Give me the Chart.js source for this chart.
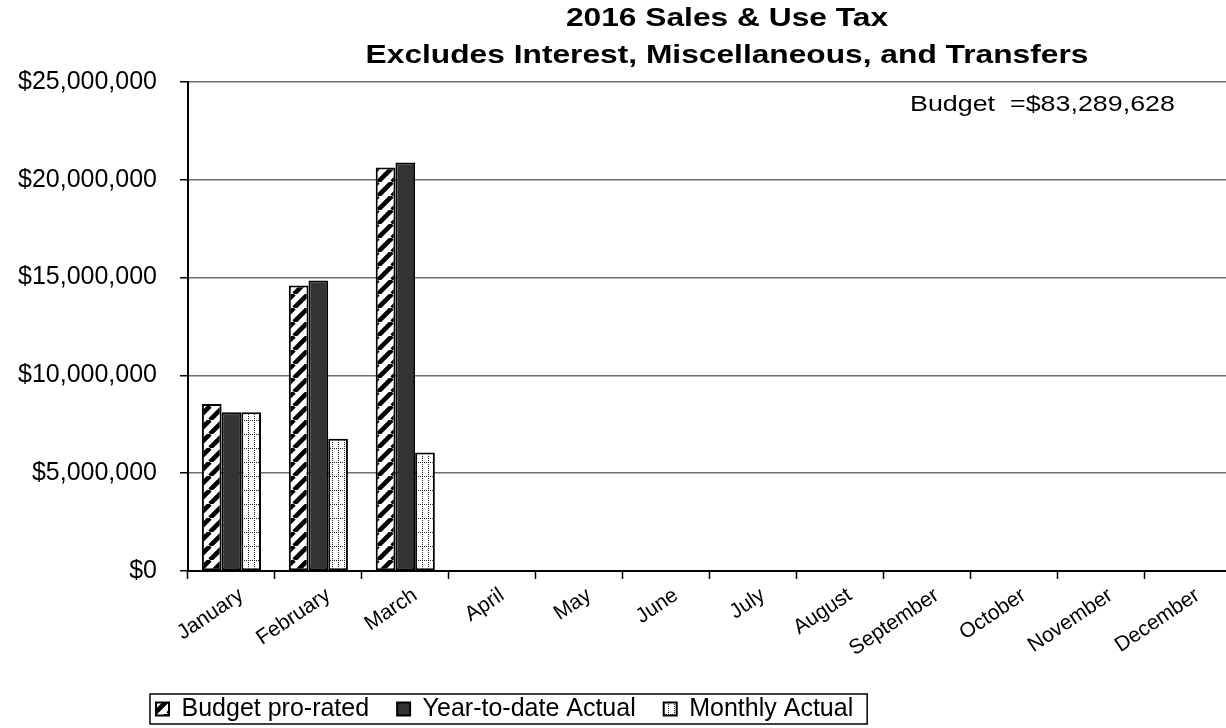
<!DOCTYPE html>
<html><head><meta charset="utf-8">
<script src="https://cdn.jsdelivr.net/npm/chart.js@4.4.0/dist/chart.umd.min.js"></script>
<style>
html,body{margin:0;padding:0;overflow:hidden;background:#fff;width:1226px;height:728px}
#wrap{position:absolute;left:0;top:0;width:1240px;height:728px}
</style></head><body>
<div id="wrap"><canvas id="c"></canvas></div>
<script>
const titleLines = ["2016 Sales & Use Tax", "Excludes Interest, Miscellaneous, and Transfers"];
const budgetNote = "Budget  =$83,289,628";
const months = ["January","February","March","April","May","June","July","August","September","October","November","December"];
const seriesNames = ["Budget pro-rated", "Year-to-date Actual", "Monthly Actual"];
const budgetProRated = [8540000, 14600000, 20630000, null, null, null, null, null, null, null, null, null];
const ytdActual      = [8120000, 14850000, 20880000, null, null, null, null, null, null, null, null, null];
const monthlyActual  = [8120000, 6760000, 6060000, null, null, null, null, null, null, null, null, null];
const yTicks = [0, 5000000, 10000000, 15000000, 20000000, 25000000];

const FONT = "'Liberation Sans', Arial, sans-serif";

function hatchPattern() {
  const s = 14, c = document.createElement('canvas');
  c.width = s; c.height = s;
  const x = c.getContext('2d');
  x.fillStyle = '#fff'; x.fillRect(0, 0, s, s);
  x.strokeStyle = '#000'; x.lineWidth = 4.6;
  x.beginPath();
  for (let o = -s; o <= s; o += s) { x.moveTo(o, s); x.lineTo(o + s, 0); }
  x.stroke();
  return x.createPattern(c, 'repeat');
}
function dotPattern() {
  const w = 6, h = 14, c = document.createElement('canvas');
  c.width = w; c.height = h;
  const x = c.getContext('2d');
  x.fillStyle = '#fff'; x.fillRect(0, 0, w, h);
  x.fillStyle = '#222';
  for (let yy = 0; yy < h; yy += 2) x.fillRect(2, yy, 1, 1);
  for (let xx = 0; xx < w; xx += 2) x.fillRect(xx, 0, 1, 1);
  return x.createPattern(c, 'repeat');
}

const PLOT_LEFT = 188, PLOT_TOP = 82, PLOT_BOTTOM = 571, PLOT_RIGHT = 1231;
const LEG_PAD = 28;
const STRETCH = 1.22;

function stretchedText(ctx, text, cx, cy, align) {
  ctx.save();
  ctx.translate(cx, cy);
  ctx.scale(STRETCH, 1);
  ctx.textAlign = align;
  ctx.textBaseline = 'middle';
  ctx.fillText(text, 0, 0);
  ctx.restore();
}

const deco = {
  id: 'deco',
  afterLayout(chart) {
    const lg = chart.legend;
    if (!lg) return;
    const w = lg.right - lg.left;
    lg.left = 156 - LEG_PAD;
    lg.right = lg.left + w;
    lg.top = 709 - LEG_PAD - 12.5;
  },
  afterDraw(chart) {
    const ctx = chart.ctx;
    ctx.save();
    ctx.fillStyle = '#000';
    ctx.font = "bold 26px " + FONT;
    stretchedText(ctx, titleLines[0], 727, 19, 'center');
    stretchedText(ctx, titleLines[1], 727, 56, 'center');
    ctx.font = "22px " + FONT;
    stretchedText(ctx, budgetNote, 910, 105, 'left');
    const lg = chart.legend;
    if (lg && lg.legendHitBoxes && lg.legendHitBoxes.length) {
      const hb = lg.legendHitBoxes;
      const x0 = 150, x1 = hb[hb.length - 1].left + hb[hb.length - 1].width + 14;
      ctx.strokeStyle = '#000';
      ctx.lineWidth = 1.5;
      ctx.strokeRect(x0, 694, x1 - x0, 30);
    }
    ctx.restore();
  }
};

const ctx = document.getElementById('c').getContext('2d');
new Chart(ctx, {
  type: 'bar',
  data: {
    labels: months,
    datasets: [
      { label: seriesNames[0], data: budgetProRated, backgroundColor: hatchPattern(), borderColor: '#000', borderWidth: 2 },
      { label: seriesNames[1], data: ytdActual, backgroundColor: '#333333', borderColor: '#000', borderWidth: 2 },
      { label: seriesNames[2], data: monthlyActual, backgroundColor: dotPattern(), borderColor: '#000', borderWidth: 2 }
    ]
  },
  options: {
    responsive: true,
    maintainAspectRatio: false,
    animation: false,
    datasets: { bar: { barPercentage: 1.0, categoryPercentage: 0.68, borderSkipped: false } },
    layout: { padding: { top: PLOT_TOP, right: 1240 - PLOT_RIGHT, left: 0, bottom: 0 } },
    plugins: {
      title: { display: false },
      tooltip: { enabled: false },
      legend: {
        display: true,
        position: 'bottom',
        align: 'start',
        labels: {
          font: { family: FONT, size: 25 },
          color: '#000',
          boxWidth: 13,
          boxHeight: 13,
          padding: LEG_PAD
        }
      }
    },
    scales: {
      x: {
        afterFit(s) { s.height = s.chart.height - PLOT_BOTTOM - (s.chart.legend ? s.chart.legend.height : 0); },
        grid: { display: true, drawOnChartArea: false, drawTicks: true, tickLength: 8, tickColor: '#000', tickWidth: 1.5, offset: true },
        border: { display: true, color: '#000', width: 2 },
        ticks: {
          autoSkip: false, minRotation: 34, maxRotation: 34, padding: 4, labelOffset: 10,
          color: '#000', font: { family: FONT, size: 21 }
        }
      },
      y: {
        min: 0, max: 25000000,
        afterFit(s) { s.width = PLOT_LEFT; },
        afterBuildTicks(s) { s.ticks = yTicks.map(v => ({ value: v })); },
        grid: { color: '#6e6e6e', lineWidth: 1.5, drawTicks: true, tickLength: 8, tickColor: '#000', tickWidth: 1.5 },
        border: { display: true, color: '#000', width: 2 },
        ticks: {
          padding: 23, color: '#000', font: { family: FONT, size: 25 },
          callback: v => '$' + Number(v).toLocaleString('en-US')
        }
      }
    }
  },
  plugins: [deco]
});
</script>
</body></html>
